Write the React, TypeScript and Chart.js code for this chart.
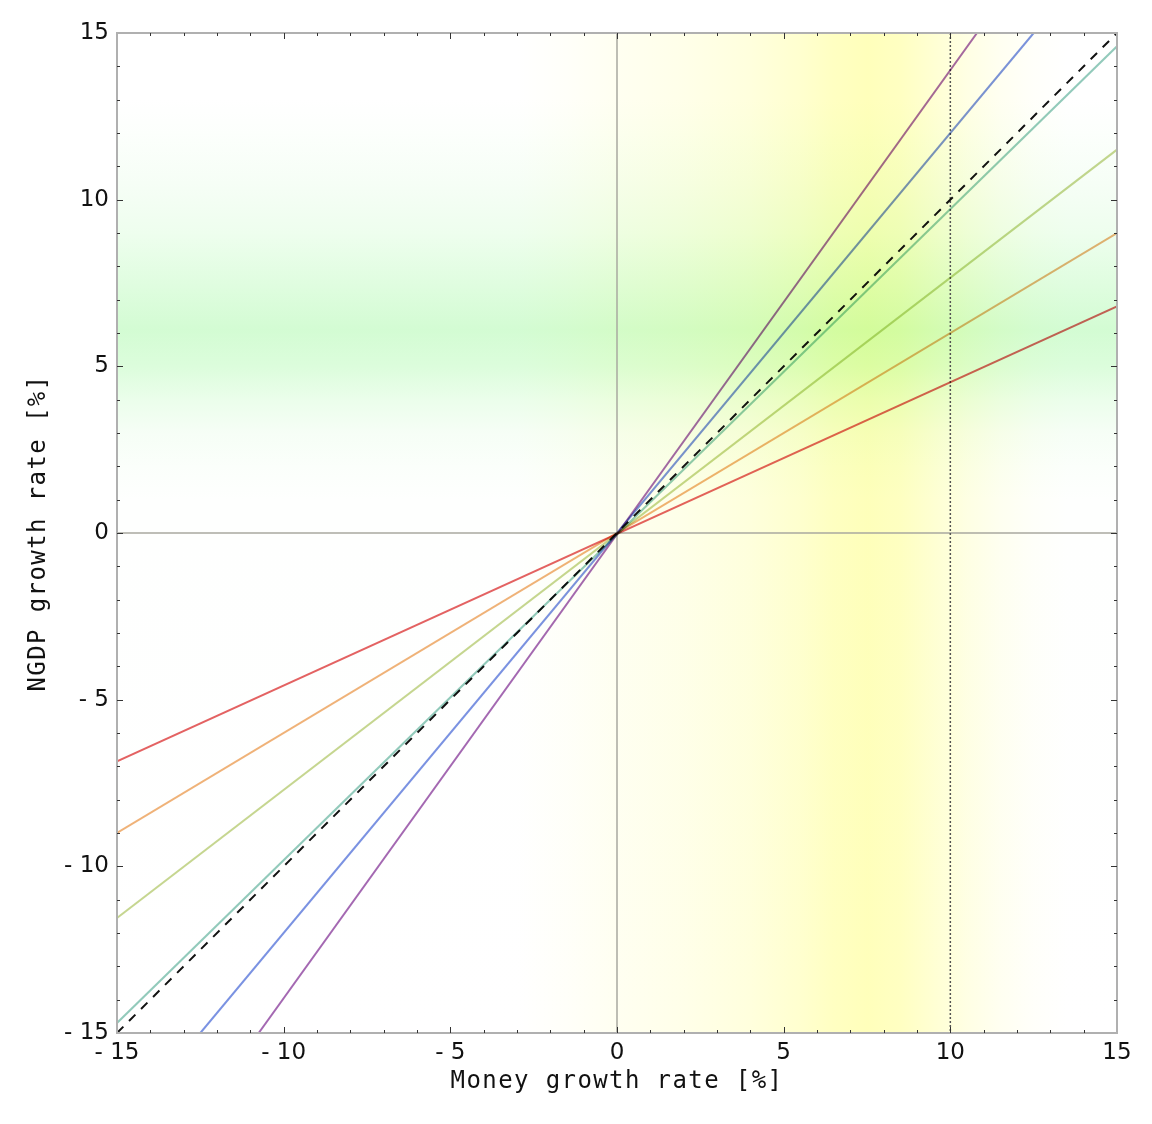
import React, { useRef, useEffect } from 'react';
import { Chart, registerables } from 'chart.js';

Chart.register(...registerables);

// lines through the origin, endpoints (x, y in %)
const seriesLabels = ['red', 'orange', 'yellow-green', 'teal', 'blue', 'purple', 'identity'];
const startX = [-15, -15, -15, -15, -12.5, -10.75, -15];
const startY = [-6.85, -9.0, -11.55, -14.7, -15, -15, -15];
const endX = [15, 15, 15, 15, 12.5, 10.8, 15];
const endY = [6.8, 9.0, 11.5, 14.6, 15, 15, 15];

const axisMin = -15;
const axisMax = 15;
const majorStep = 5;
const markerX = 10; // dotted vertical line

const lineColors = ['#e46262', '#f0b278', '#c6d690', '#92cabb', '#7a92e2', '#a468b2', '#111111'];

// background bands: [value, strength 0..1]
const yellowStops: [number, number][] = [
    [-15, 0], [-3, 0], [-1.5, 0.09], [0, 0.2], [2, 0.32], [4, 0.5], [5.5, 0.7],
    [6.5, 0.9], [7.5, 1], [8.5, 0.9], [9.5, 0.65], [10.5, 0.4], [11.5, 0.2], [12.5, 0.07], [13.5, 0], [15, 0],
];
const greenStops: [number, number][] = [
    [15, 0], [13, 0], [12, 0.06], [10.5, 0.2], [9, 0.38], [7.5, 0.7], [6.1, 1],
    [5, 0.8], [4, 0.45], [3, 0.2], [2, 0.08], [1, 0.03], [0, 0.015], [-15, 0.01],
];

const fmt = (v: number) => (v < 0 ? '- ' + Math.abs(v) : String(v));

const backgroundPlugin = {
    id: 'bands',
    beforeDatasetsDraw(chart: any) {
        const { ctx, chartArea: a, scales } = chart;
        const xs = scales.x, ys = scales.y;
        ctx.save();
        ctx.fillStyle = '#ffffff';
        ctx.fillRect(a.left, a.top, a.right - a.left, a.bottom - a.top);

        ctx.globalCompositeOperation = 'multiply';
        const gy = ctx.createLinearGradient(a.left, 0, a.right, 0);
        yellowStops.forEach(([v, t]) => {
            const p = (xs.getPixelForValue(v) - a.left) / (a.right - a.left);
            gy.addColorStop(Math.min(1, Math.max(0, p)), `rgb(255,255,${Math.round(255 - 68 * t)})`);
        });
        ctx.fillStyle = gy;
        ctx.fillRect(a.left, a.top, a.right - a.left, a.bottom - a.top);

        const gg = ctx.createLinearGradient(0, a.top, 0, a.bottom);
        greenStops.forEach(([v, t]) => {
            const p = (ys.getPixelForValue(v) - a.top) / (a.bottom - a.top);
            gg.addColorStop(Math.min(1, Math.max(0, p)), `rgb(${Math.round(255 - 44 * t)},${Math.round(255 - 3 * t)},${Math.round(255 - 44 * t)})`);
        });
        ctx.fillStyle = gg;
        ctx.fillRect(a.left, a.top, a.right - a.left, a.bottom - a.top);
        ctx.globalCompositeOperation = 'source-over';

        // zero axes
        ctx.strokeStyle = '#a9a9a0';
        ctx.lineWidth = 1.5;
        const x0 = xs.getPixelForValue(0), y0 = ys.getPixelForValue(0);
        ctx.beginPath();
        ctx.moveTo(x0, a.top); ctx.lineTo(x0, a.bottom);
        ctx.moveTo(a.left, y0); ctx.lineTo(a.right, y0);
        ctx.stroke();

        // dotted marker
        const xm = xs.getPixelForValue(markerX);
        ctx.strokeStyle = '#555555';
        ctx.lineWidth = 1.5;
        ctx.setLineDash([2, 2]);
        ctx.beginPath();
        ctx.moveTo(xm, a.top); ctx.lineTo(xm, a.bottom);
        ctx.stroke();
        ctx.restore();

        ctx.globalCompositeOperation = 'multiply'; // lines blend with the bands
    },
    afterDatasetsDraw(chart: any) {
        chart.ctx.globalCompositeOperation = 'source-over';
    },
    afterDraw(chart: any) {
        const { ctx, chartArea: a, scales } = chart;
        const xs = scales.x, ys = scales.y;
        ctx.save();
        // frame
        ctx.strokeStyle = '#b0b0b0';
        ctx.lineWidth = 2;
        ctx.strokeRect(a.left, a.top, a.right - a.left, a.bottom - a.top);

        // inward ticks on all sides
        ctx.strokeStyle = '#333333';
        ctx.lineWidth = 1;
        ctx.beginPath();
        for (let v = axisMin + 1; v < axisMax; v++) {
            const len = v % majorStep === 0 ? 6 : 3;
            const px = Math.round(xs.getPixelForValue(v)) + 0.5;
            const py = Math.round(ys.getPixelForValue(v)) + 0.5;
            ctx.moveTo(px, a.bottom); ctx.lineTo(px, a.bottom - len);
            ctx.moveTo(px, a.top); ctx.lineTo(px, a.top + len);
            ctx.moveTo(a.left, py); ctx.lineTo(a.left + len, py);
            ctx.moveTo(a.right, py); ctx.lineTo(a.right - len, py);
        }
        ctx.stroke();

        // axis titles
        ctx.fillStyle = '#111111';
        ctx.font = '24px "DejaVu Sans Mono"';
        ctx.textAlign = 'center';
        ctx.textBaseline = 'middle';
        (ctx as any).letterSpacing = '1.4px';
        ctx.fillText('Money growth rate [%]', (a.left + a.right) / 2, a.bottom + 49);
        ctx.translate(31, (a.top + a.bottom) / 2);
        ctx.rotate(-Math.PI / 2);
        ctx.fillText('NGDP growth rate [%]', 0, 0);
        ctx.restore();
    },
};

const App: React.FC = () => {
    const chartRef = useRef<HTMLCanvasElement>(null);

    useEffect(() => {
        if (!chartRef.current) return;

        const datasets = seriesLabels.map((label, i) => ({
            label,
            data: [
                { x: startX[i], y: startY[i] },
                { x: endX[i], y: endY[i] },
            ],
            showLine: true,
            borderColor: lineColors[i],
            borderWidth: 2,
            borderDash: label === 'identity' ? [9, 8] : [],
            pointRadius: 0,
            fill: false,
        }));

        const tickFont = { family: '"DejaVu Sans"', size: 23 };

        const myChart = new Chart(chartRef.current, {
            type: 'scatter',
            data: { datasets },
            plugins: [backgroundPlugin],
            options: {
                animation: false,
                responsive: true,
                maintainAspectRatio: false,
                layout: { padding: { left: 0, right: 27, top: 25, bottom: 0 } },
                plugins: {
                    legend: { display: false },
                    tooltip: { enabled: false },
                },
                scales: {
                    x: {
                        type: 'linear',
                        min: axisMin,
                        max: axisMax,
                        grid: { display: false },
                        border: { display: false },
                        ticks: { stepSize: majorStep, color: '#111', font: tickFont, padding: -2, callback: (v: any) => fmt(Number(v)) },
                        afterFit: (s: any) => { s.height = 75; },
                    },
                    y: {
                        type: 'linear',
                        min: axisMin,
                        max: axisMax,
                        grid: { display: false },
                        border: { display: false },
                        ticks: { stepSize: majorStep, color: '#111', font: tickFont, padding: 0, callback: (v: any) => fmt(Number(v)) },
                        afterFit: (s: any) => { s.width = 109; },
                    },
                },
            },
        });

        return () => {
            myChart.destroy();
        };
    }, []);

    return (
        <div style={{ width: 1136, height: 1100, position: 'relative' }}>
            <canvas ref={chartRef} />
        </div>
    );
};

export default App;
